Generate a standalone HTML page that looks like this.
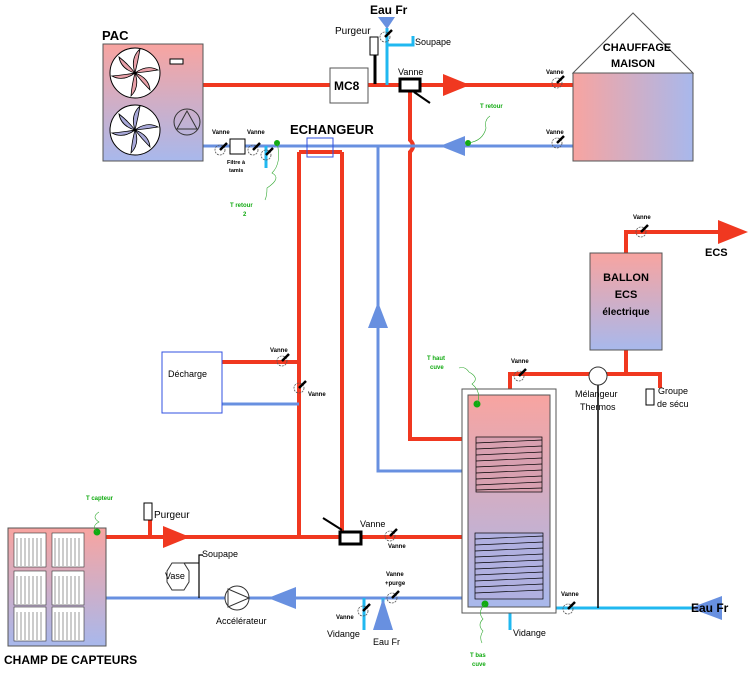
<!DOCTYPE html>
<html><head><meta charset="utf-8"><style>html,body{margin:0;padding:0;background:#fff}svg{display:block}text{font-family:"Liberation Sans",sans-serif}</style></head><body>
<svg width="750" height="674" viewBox="0 0 750 674" xmlns="http://www.w3.org/2000/svg">
<defs>
<linearGradient id="gv" x1="0" y1="0" x2="0" y2="1"><stop offset="0" stop-color="#f8a4a0"/><stop offset="1" stop-color="#a8b8ec"/></linearGradient>
<linearGradient id="gh" x1="0" y1="0" x2="1" y2="0"><stop offset="0" stop-color="#f8a4a0"/><stop offset="1" stop-color="#a8b8ec"/></linearGradient>
<g id="v"><circle cx="0" cy="0" r="5" fill="none" stroke="#555" stroke-width="0.8" stroke-dasharray="2,1"/><line x1="0" y1="0" x2="7" y2="-7" stroke="#000" stroke-width="2.5"/></g>
</defs>
<g fill="none" stroke-linecap="butt">
<g stroke="#f03820" stroke-width="4">
<line x1="203" y1="85" x2="330" y2="85"/>
<line x1="368" y1="85" x2="573" y2="85"/>
<path d="M410,92 V140 q6,6 0,12 V439 H477"/>
<path d="M299,152 V537"/><path d="M342,152 V532"/>
<path d="M299,152 H342"/>
<line x1="106" y1="537" x2="477" y2="537"/>
<line x1="222" y1="362" x2="299" y2="362"/>
<path d="M510,395 V374 H660 V388"/>
<path d="M626,350 V374"/>
<path d="M626,253 V232 H718"/>
<line x1="150" y1="537" x2="150" y2="520"/>
</g>
<g stroke="#6890e0" stroke-width="3">
<line x1="203" y1="146" x2="573" y2="146"/>
<path d="M378,146 V471 H477"/>
<line x1="222" y1="404" x2="299" y2="404"/>
<line x1="106" y1="598" x2="477" y2="598"/>
</g>
<g stroke="#20b8f0" stroke-width="3">
<path d="M387,28 V85"/><path d="M387,45 H413 V36"/>
<line x1="266" y1="146" x2="266" y2="168"/>
<line x1="550" y1="608" x2="695" y2="608"/>
<line x1="510" y1="612" x2="510" y2="630"/>
<line x1="364" y1="598" x2="364" y2="630"/>
<line x1="383" y1="598" x2="383" y2="610"/>
</g>
<line x1="375" y1="55" x2="375" y2="84" stroke="#000" stroke-width="3"/>
<line x1="598" y1="383" x2="598" y2="608" stroke="#000" stroke-width="1.5"/>
<path d="M199,598 V555 H203" stroke="#000" stroke-width="1.2"/>
<path d="M178,568 V563 H199" stroke="#000" stroke-width="1"/>
</g>
<polygon points="443,74 470,85 443,96" fill="#f03820"/>
<polygon points="163,526 190,537 163,548" fill="#f03820"/>
<polygon points="718,220 748,232 718,244" fill="#f03820"/>
<polygon points="440,146 465,136 465,156" fill="#6890e0"/>
<polygon points="268,598 296,587 296,609" fill="#6890e0"/>
<polygon points="378,302 368,328 388,328" fill="#6890e0"/>
<polygon points="690,608 722,596 722,620" fill="#6890e0"/>
<polygon points="383,598 373,630 393,630" fill="#6890e0"/>
<polygon points="378,17 395,17 387,29" fill="#6890e0"/>
<rect x="103" y="44" width="100" height="117" fill="url(#gv)" stroke="#555"/>
<circle cx="135" cy="73" r="25" fill="#fff" stroke="#000"/>
<circle cx="135" cy="130" r="25" fill="#fff" stroke="#000"/>
<g stroke="#000" stroke-width="0.8" fill="#e8a0a8">
<path d="M135,73 q-5,-15 5,-24 q-2,12 -5,24 q12,-9 23,-3 q-12,2 -23,3 q14,5 15,17 q-8,-8 -15,-17 q5,14 -4,23 q1,-12 4,-23 q-12,9 -23,3 q12,-1 23,-3 q-14,-4 -16,-16 q9,7 16,16z"/>
</g>
<g stroke="#000" stroke-width="0.8" fill="#a8a8d8">
<path d="M135,130 q-5,-15 5,-24 q-2,12 -5,24 q12,-9 23,-3 q-12,2 -23,3 q14,5 15,17 q-8,-8 -15,-17 q5,14 -4,23 q1,-12 4,-23 q-12,9 -23,3 q12,-1 23,-3 q-14,-4 -16,-16 q9,7 16,16z"/>
</g>
<rect x="170" y="59" width="13" height="5" fill="#fff" stroke="#000"/>
<circle cx="187" cy="122" r="13" fill="none" stroke="#333"/>
<polygon points="187,111 177,129 197,129" fill="none" stroke="#333"/>
<text x="102" y="40" font-size="13" font-weight="bold">PAC</text>
<rect x="230" y="139" width="15" height="15" fill="#fff" stroke="#000"/>
<use href="#v" x="220" y="150"/><use href="#v" x="253" y="150"/><use href="#v" x="266" y="155"/>
<text x="212" y="134" font-size="6" font-weight="bold">Vanne</text>
<text x="247" y="134" font-size="6" font-weight="bold">Vanne</text>
<text x="227" y="164" font-size="5.5" font-weight="bold">Filtre à</text>
<text x="229" y="172" font-size="5.5" font-weight="bold">tamis</text>
<circle cx="277" cy="143" r="3" fill="#1a1"/>
<path d="M277,143 q5,20 -5,30 q10,5 -5,15 q0,8 -2,12" fill="none" stroke="#3a3" stroke-width="0.6"/>
<text x="230" y="207" font-size="6" fill="#1a1" font-weight="bold">T retour</text>
<text x="243" y="216" font-size="6" fill="#1a1" font-weight="bold">2</text>
<rect x="307" y="138" width="26" height="19" fill="none" stroke="#3050e0"/>
<text x="290" y="134" font-size="13" font-weight="bold">ECHANGEUR</text>
<rect x="330" y="68" width="38" height="35" fill="#fff" stroke="#555"/>
<text x="334" y="90" font-size="12" font-weight="bold">MC8</text>
<rect x="370" y="37" width="8" height="18" fill="#fff" stroke="#000"/>
<text x="335" y="34" font-size="10">Purgeur</text>
<use href="#v" x="385" y="37"/>
<text x="370" y="14" font-size="12" font-weight="bold">Eau Fr</text>
<text x="415" y="45" font-size="9">Soupape</text>
<rect x="400" y="79" width="20" height="12" fill="#fff" stroke="#000" stroke-width="3"/>
<line x1="414" y1="92" x2="430" y2="103" stroke="#000" stroke-width="2"/>
<text x="398" y="75" font-size="9">Vanne</text>
<polygon points="573,73 633,13 693,73" fill="#fff" stroke="#555"/>
<rect x="573" y="73" width="120" height="88" fill="url(#gh)" stroke="#555"/>
<text x="637" y="51" font-size="11" font-weight="bold" text-anchor="middle">CHAUFFAGE</text>
<text x="633" y="67" font-size="11" font-weight="bold" text-anchor="middle">MAISON</text>
<use href="#v" x="557" y="83"/><use href="#v" x="557" y="143"/>
<text x="546" y="74" font-size="6" font-weight="bold">Vanne</text>
<text x="546" y="134" font-size="6" font-weight="bold">Vanne</text>
<circle cx="468" cy="143" r="3" fill="#1a1"/>
<path d="M468,143 q15,-2 18,-15 q-2,-8 4,-12" fill="none" stroke="#3a3" stroke-width="0.6"/>
<text x="480" y="108" font-size="6" fill="#1a1" font-weight="bold">T retour</text>
<rect x="590" y="253" width="72" height="97" fill="url(#gv)" stroke="#555"/>
<text x="626" y="281" font-size="11" font-weight="bold" text-anchor="middle">BALLON</text>
<text x="626" y="298" font-size="11" font-weight="bold" text-anchor="middle">ECS</text>
<text x="626" y="315" font-size="10" font-weight="bold" text-anchor="middle">électrique</text>
<use href="#v" x="641" y="232"/>
<text x="633" y="219" font-size="6" font-weight="bold">Vanne</text>
<text x="705" y="256" font-size="11" font-weight="bold">ECS</text>
<rect x="162" y="352" width="60" height="61" fill="#fff" stroke="#3050e0"/>
<text x="168" y="377" font-size="9">Décharge</text>
<use href="#v" x="282" y="361"/><use href="#v" x="299" y="388"/>
<text x="270" y="352" font-size="6" font-weight="bold">Vanne</text>
<text x="308" y="396" font-size="6" font-weight="bold">Vanne</text>
<rect x="462" y="389" width="94" height="224" fill="#fff" stroke="#555"/>
<rect x="468" y="395" width="82" height="212" fill="url(#gv)" stroke="#555"/>
<g stroke="#000" stroke-width="0.7">
<rect x="476" y="437" width="66" height="55" fill="#d8a0b0"/>
<rect x="475" y="533" width="68" height="66" fill="#b0b0e0"/>
<path d="M476,443 L542,440 M476,449 L542,446 M476,455 L542,452 M476,461 L542,458 M476,467 L542,464 M476,473 L542,470 M476,479 L542,476 M476,485 L542,482 M476,490 L542,488 M475,539 L543,536 M475,545 L543,542 M475,551 L543,548 M475,557 L543,554 M475,563 L543,560 M475,569 L543,566 M475,575 L543,572 M475,581 L543,578 M475,587 L543,584 M475,593 L543,590"/>
</g>
<circle cx="477" cy="404" r="3.5" fill="#1a1"/>
<path d="M477,404 q5,-12 -5,-20 q8,-6 -3,-12 q-4,-6 -10,-4" fill="none" stroke="#3a3" stroke-width="0.6"/>
<text x="427" y="360" font-size="6" fill="#1a1" font-weight="bold">T haut</text>
<text x="430" y="369" font-size="6" fill="#1a1" font-weight="bold">cuve</text>
<circle cx="485" cy="604" r="3.5" fill="#1a1"/>
<path d="M485,604 q-8,8 -2,15 q-6,6 0,12 q-4,6 -1,12" fill="none" stroke="#3a3" stroke-width="0.6"/>
<text x="470" y="657" font-size="6" fill="#1a1" font-weight="bold">T bas</text>
<text x="472" y="666" font-size="6" fill="#1a1" font-weight="bold">cuve</text>
<use href="#v" x="519" y="376"/>
<text x="511" y="363" font-size="6" font-weight="bold">Vanne</text>
<circle cx="598" cy="376" r="9" fill="#fff" stroke="#333"/>
<text x="575" y="397" font-size="9">Mélangeur</text>
<text x="580" y="410" font-size="9">Thermos</text>
<rect x="646" y="389" width="8" height="16" fill="#fff" stroke="#000"/>
<text x="658" y="394" font-size="9">Groupe</text>
<text x="657" y="407" font-size="9">de sécu</text>
<use href="#v" x="568" y="609"/>
<text x="561" y="596" font-size="6" font-weight="bold">Vanne</text>
<text x="691" y="612" font-size="12" font-weight="bold">Eau Fr</text>
<text x="513" y="636" font-size="9">Vidange</text>
<rect x="340" y="532" width="21" height="12" fill="#fff" stroke="#000" stroke-width="3"/>
<line x1="342" y1="530" x2="323" y2="518" stroke="#000" stroke-width="2"/>
<text x="360" y="527" font-size="9">Vanne</text>
<use href="#v" x="390" y="536"/>
<text x="388" y="548" font-size="6" font-weight="bold">Vanne</text>
<use href="#v" x="392" y="598"/>
<text x="386" y="576" font-size="6" font-weight="bold">Vanne</text>
<text x="385" y="585" font-size="6" font-weight="bold">+purge</text>
<use href="#v" x="363" y="611"/>
<text x="336" y="619" font-size="6" font-weight="bold">Vanne</text>
<text x="327" y="637" font-size="9">Vidange</text>
<text x="373" y="645" font-size="9">Eau Fr</text>
<circle cx="237" cy="598" r="12" fill="#fff" stroke="#333"/>
<polygon points="228,589 249,598 228,607" fill="none" stroke="#333"/>
<text x="216" y="624" font-size="9">Accélérateur</text>
<polygon points="172,563 184,563 189,571 189,582 184,590 172,590 167,582 167,571" fill="#fff" stroke="#333"/>
<text x="165" y="579" font-size="9">Vase</text>
<text x="202" y="557" font-size="9">Soupape</text>
<rect x="144" y="503" width="8" height="17" fill="#fff" stroke="#000"/>
<text x="154" y="518" font-size="10">Purgeur</text>
<rect x="8" y="528" width="98" height="118" fill="url(#gv)" stroke="#555"/>
<g fill="#fff" stroke="#333" stroke-width="0.6">
<rect x="14" y="533" width="32" height="34"/><rect x="52" y="533" width="32" height="34"/>
<rect x="14" y="571" width="32" height="34"/><rect x="52" y="571" width="32" height="34"/>
<rect x="14" y="607" width="32" height="34"/><rect x="52" y="607" width="32" height="34"/>
</g>
<g stroke="#555" stroke-width="0.6">
<path d="M17,538v28M21,538v28M25,538v28M29,538v28M33,538v28M37,538v28M41,538v28M55,538v28M59,538v28M63,538v28M67,538v28M71,538v28M75,538v28M79,538v28M17,576v28M21,576v28M25,576v28M29,576v28M33,576v28M37,576v28M41,576v28M55,576v28M59,576v28M63,576v28M67,576v28M71,576v28M75,576v28M79,576v28M17,612v28M21,612v28M25,612v28M29,612v28M33,612v28M37,612v28M41,612v28M55,612v28M59,612v28M63,612v28M67,612v28M71,612v28M75,612v28M79,612v28"/>
</g>
<circle cx="97" cy="532" r="3.5" fill="#1a1"/>
<path d="M97,532 q-6,-6 2,-10 q-8,-5 0,-10" fill="none" stroke="#3a3" stroke-width="0.6"/>
<text x="86" y="500" font-size="6" fill="#1a1" font-weight="bold">T capteur</text>
<text x="4" y="664" font-size="12" font-weight="bold">CHAMP DE CAPTEURS</text>
</svg>
</body></html>
